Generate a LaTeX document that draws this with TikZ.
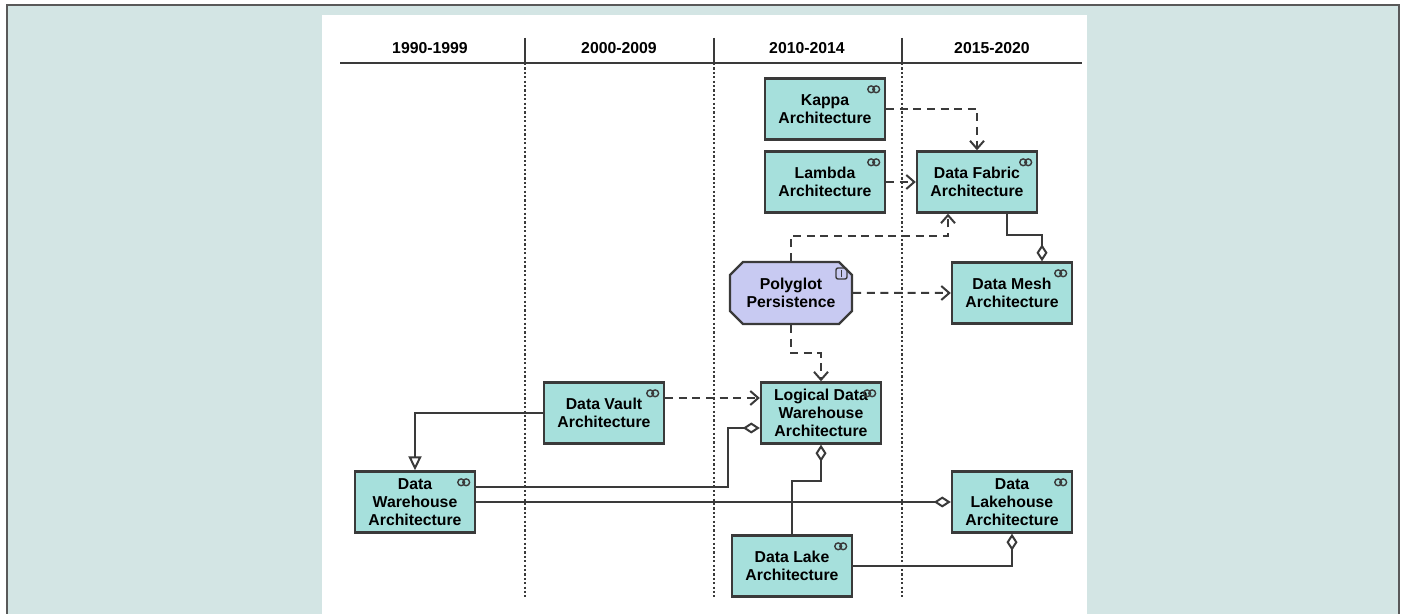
\documentclass[tikz,border=0pt]{standalone}
\usepackage{fontspec}
\setmainfont{Liberation Sans}
\usetikzlibrary{arrows.meta,shapes.misc}

\definecolor{bgteal}{HTML}{D3E5E4}
\definecolor{appfill}{HTML}{A6E0DC}
\definecolor{motfill}{HTML}{C8CAF2}
\definecolor{edgegray}{HTML}{3A3A3A}

% small collaboration icon in the top right corner of a box
\newcommand{\collabicon}[1]{%
  \draw[edgegray, line width=0.7pt]
    ([shift={(-15,12)}]#1.north east) circle (1.7pt)
    ([shift={(-10,12)}]#1.north east) circle (1.7pt);}

\begin{document}
\begin{tikzpicture}[x=0.5pt, y=-0.5pt,
    appbox/.style={draw=edgegray, line width=1.2pt, fill=appfill,
      minimum width=60pt, minimum height=30.5pt, inner sep=1pt,
      align=center, font=\fontsize{7.9}{9}\selectfont\bfseries},
    motbox/.style={appbox, fill=motfill, chamfered rectangle,
      chamfered rectangle xsep=3pt, minimum width=61pt, minimum height=31pt},
    year/.style={font=\fontsize{7.9}{9}\selectfont\bfseries},
    rule/.style={edgegray, line width=1.2pt},
    era/.style={edgegray, line width=1.2pt, dash pattern=on 1.1pt off 1.1pt},
    dep/.style={edgegray, line width=1pt, dash pattern=on 4pt off 2.8pt,
      -{Straight Barb[length=4pt,width=7pt]}},
    agg/.style={edgegray, line width=1pt,
      {Diamond[fill=white,length=8.5pt,width=5.5pt]}-},
    spec/.style={edgegray, line width=1pt,
      -{Triangle[fill=white,length=7pt,width=6.5pt]}}]

    % Page background and frame
    \useasboundingbox (0,0) rectangle (1404,614);
    \fill[white] (0,0) rectangle (1404,614);
    \fill[bgteal] (7,5) rectangle (1399,614);
    \draw[gray!70!black, line width=1pt] (7,614) -- (7,5) -- (1399,5) -- (1399,614);
    \fill[white] (322,15) rectangle (1087,614);

    % Time line with periods
    \draw[rule] (340,63) -- (1082,63);
    \foreach \x in {525,714,902} {
        \draw[rule] (\x,38) -- (\x,63);
        \draw[era] (\x,63) -- (\x,597);
    }
    \node[year] (y1) at (430,48) {1990-1999};
    \node[year] (y2) at (619,48) {2000-2009};
    \node[year] (y3) at (807,48) {2010-2014};
    \node[year] (y4) at (992,48) {2015-2020};

    % Architectures
    \node[appbox] (kappa) at (825,109) {Kappa\\Architecture};
    \node[appbox] (lambda) at (825,182) {Lambda\\Architecture};
    \node[appbox] (fabric) at (977,182) {Data Fabric\\Architecture};
    \node[motbox] (poly) at (791,293) {Polyglot\\Persistence};
    \node[appbox] (mesh) at (1012,293) {Data Mesh\\Architecture};
    \node[appbox] (vault) at (604,413) {Data Vault\\Architecture};
    \node[appbox] (ldw) at (821,413) {Logical Data\\Warehouse\\Architecture};
    \node[appbox] (dw) at (415,502) {Data\\Warehouse\\Architecture};
    \node[appbox] (lakehouse) at (1012,502) {Data\\Lakehouse\\Architecture};
    \node[appbox] (lake) at (792,566) {Data Lake\\Architecture};

    % Icons
    \foreach \n in {kappa,lambda,fabric,mesh,vault,ldw,dw,lakehouse,lake}
        \collabicon{\n};
    \draw[edgegray, line width=0.7pt, rounded corners=1pt] (836,268) rectangle (847,279);
    \draw[edgegray, line width=0.7pt] (841.5,270) -- (841.5,277);

    % Influences (dashed)
    \draw[dep] (kappa.east) -| (fabric.north);
    \draw[dep] (lambda) -- (fabric);
    \draw[dep] (poly.north) -- ++(0,-25) -| ([xshift=-14.5pt]fabric.south);
    \draw[dep] (poly) -- (mesh);
    \draw[dep] (poly.south) -- ++(0,28) -| (ldw.north);
    \draw[dep] ([yshift=7.5pt]vault.east) -- ([yshift=7.5pt]ldw.west);

    % Aggregations
    \draw[agg] ([xshift=15pt]mesh.north) -- ++(0,-26) -| ([xshift=15pt]fabric.south);
    \draw[agg] ([yshift=-7.5pt]ldw.west) -- ++(-32,0) |- ([yshift=7.5pt]dw.east);
    \draw[agg] (lakehouse) -- (dw);
    \draw[agg] (ldw.south) -- ++(0,36) -| (lake.north);
    \draw[agg] (lakehouse.south) |- (lake.east);

    % Specialization
    \draw[spec] (vault.west) -| (dw.north);
\end{tikzpicture}
\end{document}
